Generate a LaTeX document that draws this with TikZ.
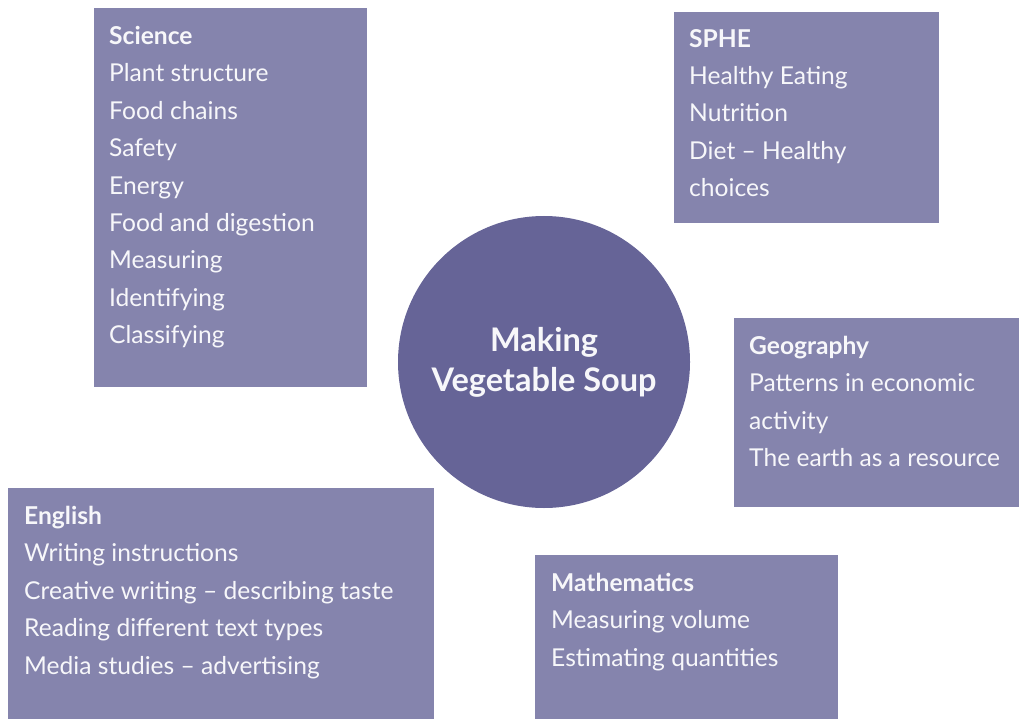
\documentclass[tikz,border=0pt]{standalone}
\usepackage{fontspec}
\setmainfont{Lato}
\definecolor{boxfill}{HTML}{8584AD}
\definecolor{hubfill}{HTML}{666497}
\definecolor{boxtext}{HTML}{F7F7FA}
\tikzset{
  topicbox/.style={fill=boxfill, draw=none, anchor=north west, inner sep=0pt},
  topictext/.style={anchor=north west, inner sep=0pt, align=left, text=boxtext,
    font=\fontsize{24.6}{37.4}\selectfont},
}
\begin{document}
\begin{tikzpicture}[x=1pt,y=-1pt]
        \useasboundingbox (0,0) rectangle (1019,719);
        % centre
        \node[circle, fill=hubfill, minimum size=292pt, inner sep=0pt, align=center,
          text=boxtext, font=\bfseries\fontsize{32.5}{40}\selectfont] (soup) at (544,362)
          {Making\\Vegetable Soup};
        % subject boxes
        \node[topicbox, minimum width=273pt, minimum height=379pt] (sci) at (94,8) {};
        \node[topictext] (scitxt) at (109,26) {\textbf{Science}\\Plant structure\\Food chains\\Safety\\Energy\\Food and digestion\\Measuring\\Identifying\\Classifying};
        \node[topicbox, minimum width=265pt, minimum height=211pt] (sphe) at (674,12) {};
        \node[topictext] (sphetxt) at (689,29) {\textbf{SPHE}\\Healthy Eating\\Nutrition\\Diet -- Healthy\\choices};
        \node[topicbox, minimum width=285pt, minimum height=189pt] (geo) at (734,318) {};
        \node[topictext] (geotxt) at (749,336) {\textbf{Geography}\\Patterns in economic\\activity\\The earth as a resource};
        \node[topicbox, minimum width=426pt, minimum height=231pt] (eng) at (8,488) {};
        \node[topictext] (engtxt) at (24,506) {\textbf{English}\\Writing instructions\\Creative writing -- describing taste\\Reading different text types\\Media studies -- advertising};
        \node[topicbox, minimum width=303pt, minimum height=164pt] (maths) at (535,555) {};
        \node[topictext] (mathstxt) at (551,573) {\textbf{Mathematics}\\Measuring volume\\Estimating quantities};
\end{tikzpicture}
\end{document}
